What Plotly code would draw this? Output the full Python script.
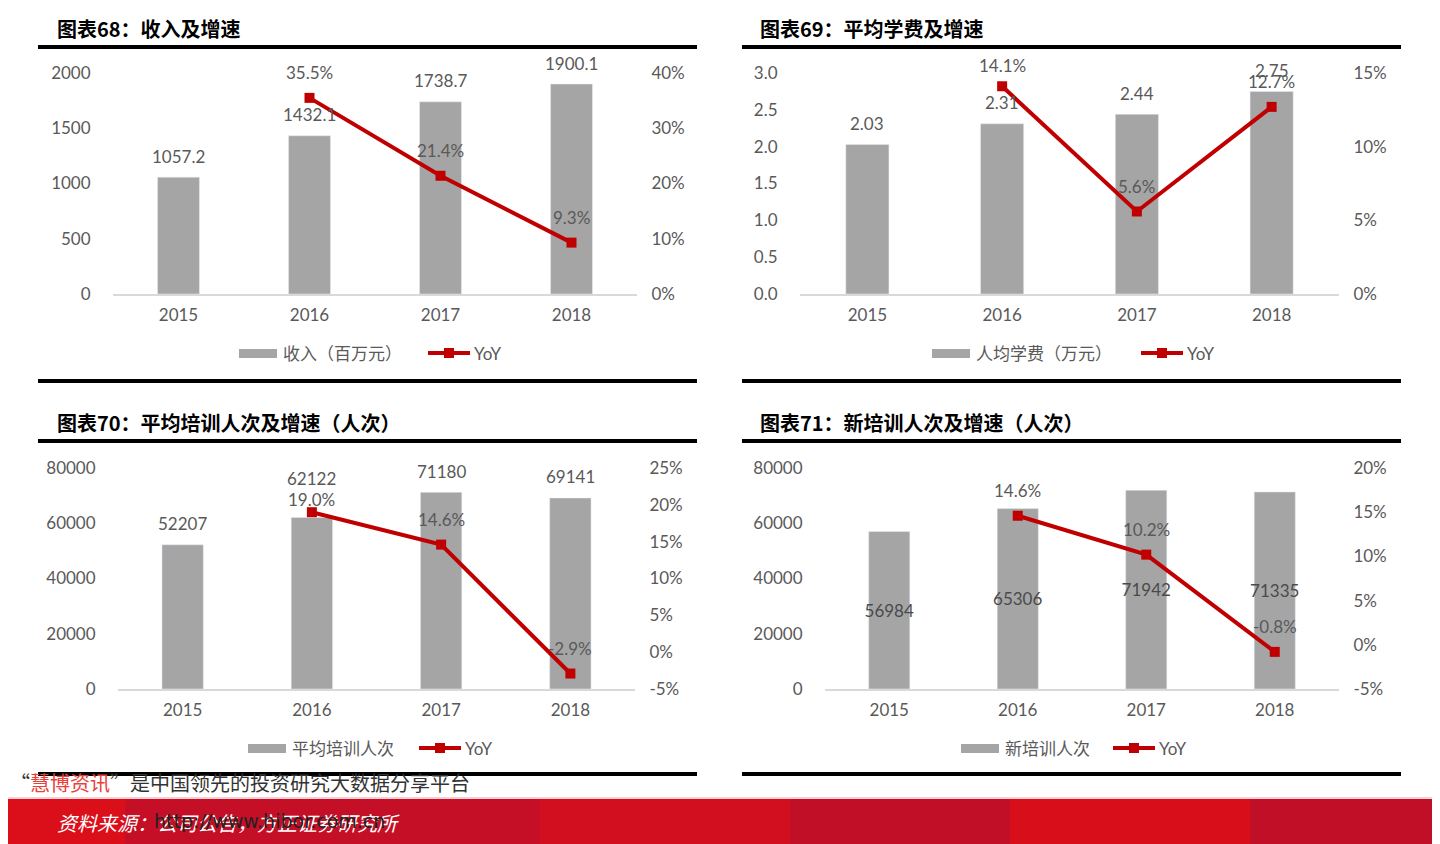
import plotly.graph_objects as go

# ---- data ----
years = ['2015', '2016', '2017', '2018']

revenue = [1057.2, 1432.1, 1738.7, 1900.1]
revenue_yoy = [None, 35.5, 21.4, 9.3]

fee = [2.03, 2.31, 2.44, 2.75]
fee_yoy = [None, 14.1, 5.6, 12.7]

avg_trainees = [52207, 62122, 71180, 69141]
avg_trainees_yoy = [None, 19.0, 14.6, -2.9]

new_trainees = [56984, 65306, 71942, 71335]
new_trainees_yoy = [None, 14.6, 10.2, -0.8]

titles = ['图表68：收入及增速', '图表69：平均学费及增速',
          '图表70：平均培训人次及增速（人次）', '图表71：新培训人次及增速（人次）']
bar_names = ['收入（百万元）', '人均学费（万元）', '平均培训人次', '新培训人次']

W, H = 1440, 844
OFF = 8  # page margin around the plot div
GRAY_TXT = '#595959'
BAR = '#a5a5a5'
RED = '#c00000'
FONT = 'Lato, Noto Sans CJK SC, sans-serif'


def px(x):
    return (x - OFF) / W


def py(y):
    return 1 - (y - OFF) / H


panels = [
    dict(bars=revenue, yoy=revenue_yoy, fmt='{:.1f}', inside=False,
         left=[0, 2000], ldt=500, lfmt='', right=[0, 40], rdt=10,
         box=(113, 637, 73, 294), title=(55, 29), legend=(353, 239, 428)),
    dict(bars=fee, yoy=fee_yoy, fmt='{:.2f}', inside=False,
         left=[0, 3], ldt=0.5, lfmt='.1f', right=[0, 15], rdt=5,
         box=(800, 1339, 73, 294), title=(758, 29), legend=(353, 932, 1141)),
    dict(bars=avg_trainees, yoy=avg_trainees_yoy, fmt='{}', inside=False,
         left=[0, 80000], ldt=20000, lfmt='d', right=[-5, 25], rdt=5,
         box=(118, 635, 468, 689), title=(55, 423), legend=(748, 248, 419)),
    dict(bars=new_trainees, yoy=new_trainees_yoy, fmt='{}', inside=True,
         left=[0, 80000], ldt=20000, lfmt='d', right=[-5, 20], rdt=5,
         box=(825, 1339, 468, 689), title=(758, 423), legend=(748, 961, 1113)),
]
# label nudges (pixels above the bar top / marker)
bar_label_shift = 21
line_label_shift = 25
special_bar_shift = {(3, '2016'): 39}
special_line_shift = {(3, '2016'): 13, (2, '2016'): 21}

fig = go.Figure()
layout = {}
annotations = []
shapes = []
lab_font = dict(family=FONT, size=17, color=GRAY_TXT)

for k, p in enumerate(panels, start=1):
    xref = 'x' if k == 1 else f'x{k}'
    yl, yr = 2 * k - 1, 2 * k
    ylref = 'y' if yl == 1 else f'y{yl}'
    yrref = f'y{yr}'
    x0, x1, y0, y1 = p['box']

    bar_text = [p['fmt'].format(v) for v in p['bars']]
    fig.add_trace(go.Bar(
        x=years, y=p['bars'], name=bar_names[k - 1], showlegend=False,
        marker_color=BAR, xaxis=xref, yaxis=ylref,
        text=bar_text if p['inside'] else None,
        textposition='inside' if p['inside'] else 'none',
        insidetextanchor='middle', textangle=0, constraintext='none',
        textfont=dict(family=FONT, size=17, color='#4a4a4a'), cliponaxis=False,
    ))
    fig.add_trace(go.Scatter(
        x=years, y=p['yoy'], name='YoY', mode='lines+markers', showlegend=False,
        line=dict(color=RED, width=4), marker=dict(symbol='square', size=10, color=RED),
        xaxis=xref, yaxis=yrref, cliponaxis=False,
    ))

    # value labels, placed on the category index of each year
    if not p['inside']:
        for i, (yr_, v, t) in enumerate(zip(years, p['bars'], bar_text)):
            annotations.append(dict(
                x=i, y=v, xref=xref, yref=ylref, text=t, showarrow=False,
                yanchor='middle', yshift=special_bar_shift.get((k, yr_), bar_label_shift),
                font=lab_font))
    for i, (yr_, v) in enumerate(zip(years, p['yoy'])):
        if v is None:
            continue
        annotations.append(dict(
            x=i, y=v, xref=xref, yref=yrref, text=f'{v:.1f}%', showarrow=False,
            yanchor='middle', yshift=special_line_shift.get((k, yr_), line_label_shift),
            font=lab_font))

    xa = 'xaxis' if k == 1 else f'xaxis{k}'
    layout[xa] = dict(
        domain=[px(x0), px(x1)], anchor=ylref, type='category', automargin=False,
        range=[-0.5, len(years) - 0.5],
        showline=True, linecolor='#d9d9d9', linewidth=2, showgrid=False,
        ticks='outside', ticklen=5, tickcolor='rgba(0,0,0,0)', tickfont=lab_font,
    )
    layout['yaxis' if yl == 1 else f'yaxis{yl}'] = dict(
        domain=[py(y1), py(y0)], anchor=xref, range=p['left'], dtick=p['ldt'],
        tickformat=p['lfmt'], showgrid=False, zeroline=False, showline=False,
        automargin=False, ticks='outside', ticklen=18, tickcolor='rgba(0,0,0,0)',
        tickfont=lab_font,
    )
    rticks = list(range(p['right'][0], p['right'][1] + 1, p['rdt']))
    layout[f'yaxis{yr}'] = dict(
        overlaying=ylref, anchor=xref, side='right', range=p['right'],
        tickmode='array', tickvals=rticks, ticktext=[f'{v}%' for v in rticks],
        showgrid=False, zeroline=False,
        automargin=False, ticks='outside', ticklen=10, tickcolor='rgba(0,0,0,0)',
        tickfont=lab_font,
    )

    # title
    tx, ty = p['title']
    annotations.append(dict(
        text=f'<b>{titles[k - 1]}</b>', x=px(tx), y=py(ty), xref='paper', yref='paper',
        xanchor='left', yanchor='middle', showarrow=False,
        font=dict(family='Noto Sans CJK SC', size=20, color='black'),
    ))

    # legend (drawn by hand: wide grey swatch + line with square marker)
    ly, rx, lx = p['legend']
    shapes.append(dict(type='rect', xref='paper', yref='paper',
                       x0=px(rx), x1=px(rx + 38), y0=py(ly + 5), y1=py(ly - 4),
                       fillcolor=BAR, line=dict(width=0)))
    annotations.append(dict(text=bar_names[k - 1], x=px(rx + 42), y=py(ly), xref='paper',
                            yref='paper', xanchor='left', yanchor='middle',
                            showarrow=False, font=lab_font))
    shapes.append(dict(type='line', xref='paper', yref='paper',
                       x0=px(lx), x1=px(lx + 42), y0=py(ly), y1=py(ly),
                       line=dict(color=RED, width=4)))
    shapes.append(dict(type='rect', xref='paper', yref='paper',
                       x0=px(lx + 16), x1=px(lx + 26), y0=py(ly + 5), y1=py(ly - 5),
                       fillcolor=RED, line=dict(width=0)))
    annotations.append(dict(text='YoY', x=px(lx + 44), y=py(ly), xref='paper',
                            yref='paper', xanchor='left', yanchor='middle',
                            showarrow=False, font=lab_font))

# black separator lines
for (lx0, lx1) in [(38, 697), (742, 1401)]:
    for yy in [47, 381, 441, 774]:
        shapes.append(dict(type='line', xref='paper', yref='paper',
                           x0=px(lx0), x1=px(lx1), y0=py(yy), y1=py(yy),
                           line=dict(color='black', width=4)))

# red footer band
stripes = [(0, 125, '#da0f1a'), (125, 540, '#c50f26'), (540, 790, '#d20f1e'),
           (790, 1010, '#c20f28'), (1010, 1250, '#d80f1b'), (1250, 1460, '#c10f28')]
for sx0, sx1, col in stripes:
    shapes.append(dict(type='rect', xref='paper', yref='paper', layer='below',
                       x0=px(sx0), x1=px(sx1), y0=py(860), y1=py(799),
                       fillcolor=col, line=dict(width=0)))
shapes.append(dict(type='line', xref='paper', yref='paper', x0=px(0), x1=px(1460),
                   y0=py(798), y1=py(798), line=dict(color='#e7a3aa', width=1)))

annotations.append(dict(
    text='<i>资料来源：公司公告，方正证券研究所</i>', x=px(55), y=py(822), xref='paper',
    yref='paper', xanchor='left', yanchor='middle', showarrow=False,
    font=dict(family='Noto Sans CJK SC', size=20, color='white'),
))
annotations.append(dict(
    text='http://www.hibor.com.cn', x=px(152), y=py(821), xref='paper', yref='paper',
    xanchor='left', yanchor='middle', showarrow=False,
    font=dict(family='DejaVu Sans', size=19, color='#222222'),
))
annotations.append(dict(
    text='“<span style="color:#e8403a">慧博资讯</span>”是中国领先的投资研究大数据分享平台',
    x=px(8), y=py(782), xref='paper', yref='paper',
    xanchor='left', yanchor='middle', showarrow=False,
    font=dict(family='Noto Sans CJK SC', size=20, color='#333333'),
))

fig.update_layout(
    width=W, height=H, margin=dict(l=0, r=0, t=0, b=0, autoexpand=False),
    paper_bgcolor='white', plot_bgcolor='rgba(0,0,0,0)',
    bargap=0.68, showlegend=False,
    annotations=annotations, shapes=shapes,
    **layout,
)

fig.write_html('out.html')
